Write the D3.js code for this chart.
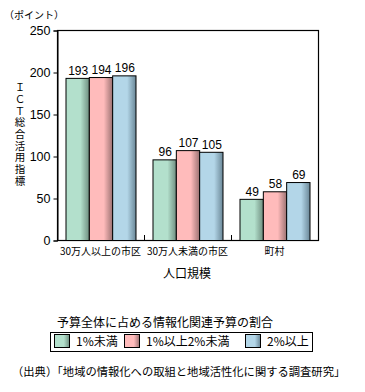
<!DOCTYPE html>
<html><head><meta charset="utf-8">
<script src="https://cdn.jsdelivr.net/npm/d3@7"></script>
<style>
body{margin:0;background:#fff;}
text{font-family:"Noto Sans CJK JP","Noto Sans",sans-serif;fill:#000;}
</style></head>
<body><svg id="c" width="365" height="392"></svg>
<script>
const categories = ["30万人以上の市区","30万人未満の市区","町村"];
const seriesNames = ["1%未満","1%以上2%未満","2%以上"];
const series1 = [193,96,49];
const series2 = [194,107,58];
const series3 = [196,105,69];
const yTicks = [0,50,100,150,200,250];
const colors = [["#b3e0cc","#6f8e80"],["#ffbbbb","#9c7272"],["#b3d6e8","#6a8797"]];

const svg = d3.select("#c");
const m = {l:57, r:318, t:30, b:240};
const x = d3.scaleBand().domain(categories).range([m.l,m.r]).paddingInner(0).paddingOuter(0);
const gp = 8.5;
const x1 = d3.scaleBand().domain(seriesNames).range([gp,x.bandwidth()-gp]).padding(0);
const y = d3.scaleLinear().domain([0,250]).range([m.b,m.t]);

const defs = svg.append("defs");
colors.forEach((c,i)=>{
  const g = defs.append("linearGradient").attr("id","g"+i).attr("x1","0").attr("x2","1").attr("y1","0").attr("y2","0");
  g.append("stop").attr("offset","0").attr("stop-color",c[0]);
  g.append("stop").attr("offset","0.62").attr("stop-color",c[0]);
  g.append("stop").attr("offset","1").attr("stop-color",c[1]);
});

// frame
svg.append("rect").attr("x",m.l+0.5).attr("y",m.t+0.5).attr("width",m.r-m.l).attr("height",m.b-m.t)
  .attr("fill","none").attr("stroke","#000").attr("stroke-width",1.2);

// y axis
const yAxis = d3.axisLeft(y).tickValues(yTicks).tickSize(4).tickPadding(3);
const ya = svg.append("g").attr("transform",`translate(${m.l+0.5},0.5)`).call(yAxis);
ya.select(".domain").attr("stroke","#000");
ya.selectAll("text").style("font-size","12.5px").style("font-family","Liberation Sans, Arial, sans-serif");

// x axis: inner ticks at group boundaries
const bounds = categories.slice(1).map(c=>x(c));
svg.selectAll(".xt").data(bounds).enter().append("line")
  .attr("x1",d=>d+0.5).attr("x2",d=>d+0.5).attr("y1",m.b).attr("y2",m.b-5).attr("stroke","#000");
svg.selectAll(".xl").data(categories).enter().append("text")
  .attr("x",d=>x(d)+x.bandwidth()/2).attr("y",255).attr("text-anchor","middle")
  .style("font-size","10px").text(d=>d);

// bars
const data = [series1,series2,series3];
categories.forEach((c,ci)=>{
  seriesNames.forEach((s,si)=>{
    const v = data[si][ci];
    const bx = x(c)+x1(s);
    svg.append("rect").attr("x",bx+0.5).attr("y",y(v)+0.5).attr("width",x1.bandwidth()).attr("height",m.b-y(v))
      .attr("fill",`url(#g${si})`).attr("stroke","#000").attr("stroke-width",1);
    svg.append("text").attr("x",bx+x1.bandwidth()/2+1).attr("y",y(v)-3).attr("text-anchor","middle")
      .style("font-size","12px").style("font-family","Liberation Sans, Arial, sans-serif").text(v);
  });
});

// titles
svg.append("text").attr("x",4).attr("y",19).style("font-size","10px").text("（ポイント）");
svg.append("text").attr("x",20).attr("y",82)
  .attr("writing-mode","vertical-rl").style("letter-spacing","1.2px")
  .style("font-size","10.5px").text("ＩＣＴ総合活用指標");
svg.append("text").attr("x",187).attr("y",278).attr("text-anchor","middle").style("font-size","12px").text("人口規模");

// legend
svg.append("text").attr("x",57).attr("y",327).style("font-size","12px").text("予算全体に占める情報化関連予算の割合");
svg.append("rect").attr("x",50.5).attr("y",332.5).attr("width",262).attr("height",19).attr("fill","#fff").attr("stroke","#000");
const lx = [54,124,245];
seriesNames.forEach((s,i)=>{
  svg.append("rect").attr("x",lx[i]+0.5).attr("y",334.5).attr("width",15).attr("height",13)
    .attr("fill",`url(#g${i})`).attr("stroke","#000");
  svg.append("text").attr("x",lx[i]+22).attr("y",346).style("font-size","12px").text(s);
});

svg.append("text").attr("x",12).attr("y",376).style("font-size","11.3px").text("（出典）「地域の情報化への取組と地域活性化に関する調査研究」");
</script></body></html>
